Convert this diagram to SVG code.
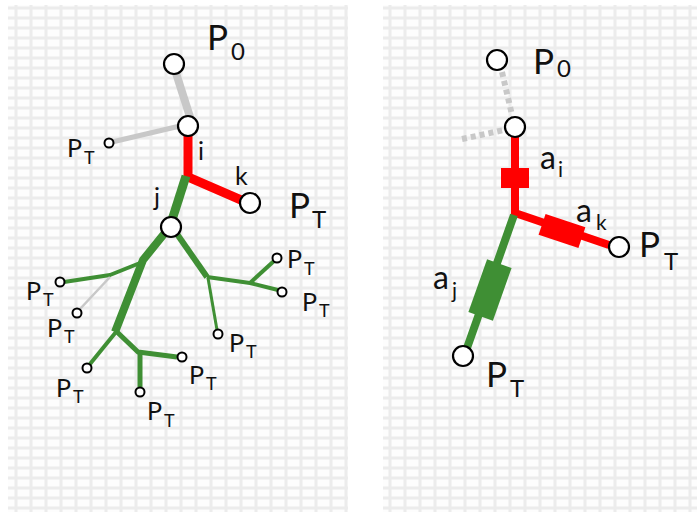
<svg xmlns="http://www.w3.org/2000/svg" width="700" height="515" viewBox="0 0 700 515">
<defs>
<pattern id="gridL" x="9" y="3" width="15" height="10" patternUnits="userSpaceOnUse">
<rect width="15" height="10" fill="#fdfdfd"/>
<path d="M7 0V10M0 5H15" stroke="#ececec" stroke-width="3" fill="none"/>
</pattern>
<pattern id="gridR" x="383" y="3" width="15" height="10" patternUnits="userSpaceOnUse">
<rect width="15" height="10" fill="#fdfdfd"/>
<path d="M7 0V10M0 5H15" stroke="#ececec" stroke-width="3" fill="none"/>
</pattern>
<style>
.big{font-family:Lato,"Liberation Sans",sans-serif;font-size:35px;fill:#111}
.bsub{font-family:Lato,"Liberation Sans",sans-serif;font-size:24px;fill:#111}
.sm{font-family:Lato,"Liberation Sans",sans-serif;font-size:25px;fill:#111}
.ssub{font-family:Lato,"Liberation Sans",sans-serif;font-size:18px;fill:#111}
.a{font-family:Lato,"Liberation Sans",sans-serif;font-size:32px;fill:#111}
.asub{font-family:Lato,"Liberation Sans",sans-serif;font-size:21px;fill:#111}
.node{fill:#fff;stroke:#000;stroke-width:2.2}
.leaf{fill:#fff;stroke:#000;stroke-width:2}
.g{stroke:#3f8f34;fill:none;stroke-linecap:butt;stroke-linejoin:round}
.r{stroke:#ff0000;fill:none;stroke-linejoin:miter}
.gr{stroke:#c8c8c8;fill:none}
</style>
</defs>
<rect x="0" y="0" width="700" height="515" fill="#fff"/>
<rect x="8" y="5" width="340" height="507" fill="url(#gridL)"/>
<rect x="383" y="5" width="314" height="507" fill="url(#gridR)"/>

<g id="connectors">
<path class="gr" d="M175 70 L191 120" stroke-width="8"/>
<path class="gr" d="M112 142 L180 126" stroke-width="5"/>
<path class="r" d="M188 134 V177 L248 203" stroke-width="9"/>
<path class="g" d="M186 176 L172 220" stroke-width="9"/>
<path class="g" d="M164 234 L143 260 L115 332" stroke-width="8"/>
<path class="g" d="M140 263 L110 275 L64 282" stroke-width="4"/>
<path class="gr" d="M110 277 L80 309" stroke-width="2.5"/>
<path class="g" d="M116 332 L90 364" stroke-width="4"/>
<path class="g" d="M116 331 L138 352 L177 357" stroke-width="5"/>
<path class="g" d="M140 353 V387" stroke-width="5"/>
<path class="g" d="M177 234 L207 277" stroke-width="6"/>
<path class="g" d="M207 277 L250 283 L278 290" stroke-width="4"/>
<path class="g" d="M250 283 L274 261" stroke-width="4"/>
<path class="g" d="M208 278 L217 330" stroke-width="3"/>
<path class="gr" d="M502 72 L512 115" stroke-width="6" stroke-dasharray="5 4"/>
<path class="gr" d="M462 139 L504 130" stroke-width="6" stroke-dasharray="5 4"/>
<path class="r" d="M515 137 V213 L609 245" stroke-width="8"/>
<path class="g" d="M514 215 L467 348" stroke-width="8"/>
<rect x="501" y="168" width="28" height="20" fill="#ff0000"/>
<rect x="-21" y="-11" width="42" height="22" fill="#ff0000" transform="translate(562 231) rotate(18.5)"/>
<rect x="-13" y="-28" width="26" height="56" fill="#3f8f34" transform="translate(490 290) rotate(19.5)"/>
</g>

<g id="left-P0"><circle class="node" cx="174" cy="64" r="10"/><text class="big" x="207" y="50">P</text><text class="bsub" x="231" y="60">0</text></g>
<g id="left-i"><circle class="node" cx="188" cy="126" r="10"/><text class="sm" x="198" y="160">i</text></g>
<g id="left-k"><circle class="node" cx="250" cy="203" r="10"/><text class="sm" x="235" y="185">k</text><text class="big" x="289" y="218">P</text><text class="bsub" x="312" y="228">T</text></g>
<g id="left-j"><circle class="node" cx="171" cy="227" r="10"/><text class="sm" x="154" y="206">j</text></g>
<g id="left-pt0"><circle class="leaf" cx="109" cy="143" r="4.5"/><text class="sm" x="67" y="157">P</text><text class="ssub" x="84" y="164">T</text></g>
<g id="left-pt1"><circle class="leaf" cx="60" cy="282" r="4.5"/><text class="sm" x="26" y="300">P</text><text class="ssub" x="43" y="306">T</text></g>
<g id="left-pt2"><circle class="leaf" cx="77" cy="313" r="4.5"/><text class="sm" x="47" y="337">P</text><text class="ssub" x="64" y="343">T</text></g>
<g id="left-pt3"><circle class="leaf" cx="87" cy="368" r="4.5"/><text class="sm" x="56" y="397">P</text><text class="ssub" x="73" y="403">T</text></g>
<g id="left-pt4"><circle class="leaf" cx="140" cy="392" r="4.5"/><text class="sm" x="147" y="420">P</text><text class="ssub" x="164" y="427">T</text></g>
<g id="left-pt5"><circle class="leaf" cx="182" cy="357" r="4.5"/><text class="sm" x="189" y="384">P</text><text class="ssub" x="206" y="390">T</text></g>
<g id="left-pt6"><circle class="leaf" cx="218" cy="334" r="4.5"/><text class="sm" x="229" y="352">P</text><text class="ssub" x="246" y="358">T</text></g>
<g id="left-pt7"><circle class="leaf" cx="277" cy="258" r="4.5"/><text class="sm" x="287" y="268">P</text><text class="ssub" x="304" y="275">T</text></g>
<g id="left-pt8"><circle class="leaf" cx="282" cy="292" r="4.5"/><text class="sm" x="302" y="311">P</text><text class="ssub" x="319" y="317">T</text></g>

<g id="right-P0"><circle class="node" cx="497" cy="60" r="10"/><text class="big" x="533" y="74">P</text><text class="bsub" x="557" y="77">0</text></g>
<g id="right-i"><circle class="node" cx="515" cy="127" r="10"/><text class="a" x="540" y="169">a</text><text class="asub" x="558" y="177">i</text></g>
<g id="right-k"><circle class="node" cx="619" cy="247" r="10"/><text class="a" x="576" y="222">a</text><text class="asub" x="596" y="230">k</text><text class="big" x="639" y="257">P</text><text class="bsub" x="664" y="270">T</text></g>
<g id="right-j"><circle class="node" cx="463" cy="356" r="10"/><text class="a" x="433" y="289">a</text><text class="asub" x="452" y="298">j</text><text class="big" x="486" y="387">P</text><text class="bsub" x="510" y="397">T</text></g>
</svg>
